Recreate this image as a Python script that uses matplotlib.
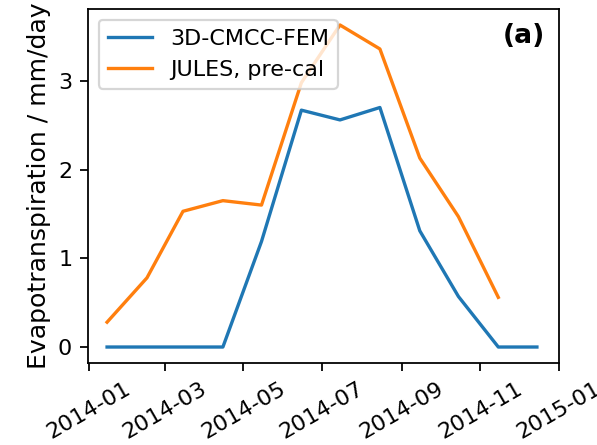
import numpy as np
import pandas as pd
import matplotlib
matplotlib.use("Agg")
import matplotlib.pyplot as plt
import matplotlib.dates as mdates

months = pd.date_range("2014-01-01", periods=12, freq="MS") + pd.Timedelta(days=14)
cmcc_et = [0.0, 0.0, 0.0, 0.0, 1.19, 2.67, 2.56, 2.70, 1.31, 0.57, 0.0, 0.0]
jules_et = [0.28, 0.78, 1.53, 1.65, 1.60, 2.98, 3.63, 3.36, 2.13, 1.47, 0.56]

DPI = 160
fig = plt.figure(figsize=(597 / DPI, 445 / DPI), dpi=DPI)
ax = fig.add_axes([0.147, 0.184, 0.789, 0.796])

ax.plot(months, cmcc_et, label="3D-CMCC-FEM")
ax.plot(months[:len(jules_et)], jules_et, label="JULES, pre-cal")

ax.xaxis.set_major_locator(mdates.MonthLocator(bymonth=[1, 3, 5, 7, 9, 11]))
ax.xaxis.set_major_formatter(mdates.DateFormatter("%Y-%m"))
plt.setp(ax.get_xticklabels(), rotation=30)
ax.set_xlim(pd.Timestamp("2013-12-31"), pd.Timestamp("2015-01-01"))

ax.set_ylabel("Evapotranspiration / mm/day", fontsize=11.3, labelpad=3)
ax.legend(loc="upper left")
ax.text(0.97, 0.96, "(a)", transform=ax.transAxes, ha="right", va="top",
        fontweight="bold", fontsize=12)

fig.savefig("out.png", dpi=DPI)
